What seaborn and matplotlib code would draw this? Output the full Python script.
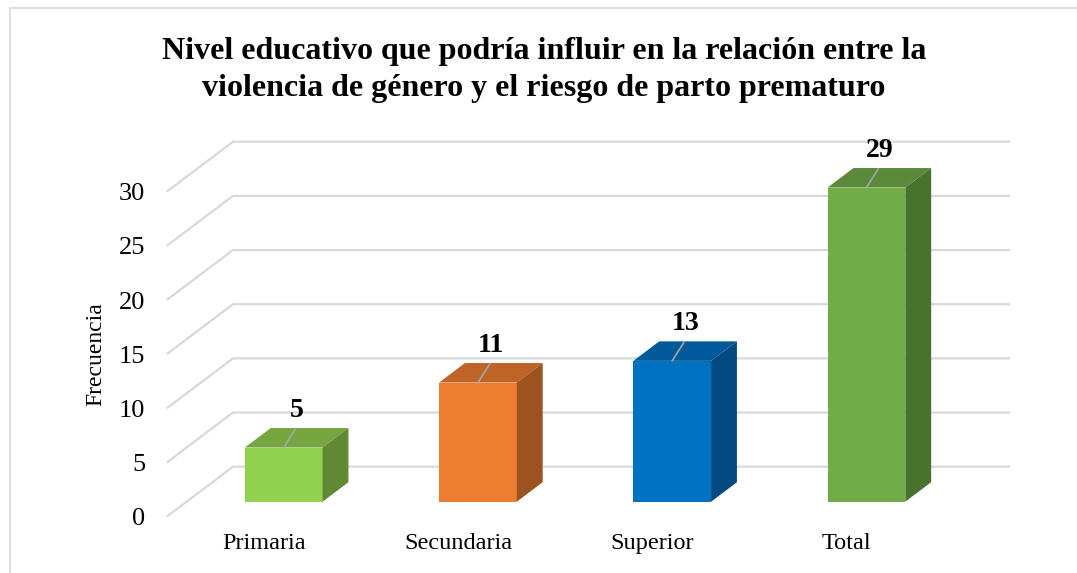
import numpy as np
import pandas as pd
import seaborn as sns
import matplotlib
matplotlib.use("Agg")
import matplotlib.pyplot as plt
from matplotlib.patches import Polygon, Rectangle
from matplotlib import colors as mcolors

# ---------------- data ----------------
categories = ["Primaria", "Secundaria", "Superior", "Total"]
frecuencias = [5, 11, 13, 29]
bar_colors = ["#92D050", "#ED7D31", "#0070C0", "#70AD47"]
yticks = [0, 5, 10, 15, 20, 25, 30]
title = ("Nivel educativo que podría influir en la relación entre la\n"
         "violencia de género y el riesgo de parto prematuro")
ylabel = "Frecuencia"

# ---------------- style ----------------
sns.set_theme(style="white")
plt.rcParams["font.family"] = ["Liberation Serif", "DejaVu Serif"]

W, H = 1077, 573
fig = plt.figure(figsize=(W / 100, H / 100), dpi=100)
fig.patch.set_facecolor("white")

# axes = front plane of the 3D box (pixel geometry)
ax_left, ax_bottom_px, ax_w, ax_h = 166.7, 516.7, 777.0, 325.0
ax = fig.add_axes([ax_left / W, (H - ax_bottom_px) / H, ax_w / W, ax_h / H])
ax.set_facecolor("white")

df = pd.DataFrame({"Nivel": categories, "Frecuencia": frecuencias})
sns.barplot(data=df, x="Nivel", y="Frecuencia", hue="Nivel", palette=bar_colors,
            width=0.4, saturation=1, legend=False, ax=ax, zorder=3)

ax.set_xlim(-0.5, 3.5)
ax.set_ylim(0, 30)

px_x = ax_w / 4.0      # pixels per category
px_y = ax_h / 30.0     # pixels per unit


def to_data(dx_px, dy_px):
    return dx_px / px_x, dy_px / px_y


# depth vectors (pixels, y up)
Dx, Dy = to_data(66.3, 50.0)           # full depth of the box
fx, fy = to_data(0.3 * 66.3, 0.3 * 50.0)   # bar front plane
bx, by = to_data(0.39 * 66.3, 0.39 * 50.0)  # bar depth

# gridlines: side wall + back wall
for v in yticks:
    ax.plot([-0.5, -0.5 + Dx, 3.5 + Dx], [v, v + Dy, v + Dy],
            color="#d9d9d9", lw=1.6, clip_on=False, zorder=0,
            solid_capstyle="butt")


def shade(c, f):
    r, g, b = mcolors.to_rgb(c)
    return (r * f, g * f, b * f)


# 3D bars: shift front faces, add tops and sides
lx, ly = to_data(12, 19)
tx, ty = to_data(13, 37)
for patch, col, val in zip(ax.patches, bar_colors, frecuencias):
    x0 = patch.get_x() + fx
    w = patch.get_width()
    h = patch.get_height()
    y0 = patch.get_y() + fy
    patch.set_x(x0)
    patch.set_y(y0)
    patch.set_edgecolor("none")
    patch.set_clip_on(False)
    x1 = x0 + w
    top = Polygon([(x0, y0 + h), (x1, y0 + h), (x1 + bx, y0 + h + by), (x0 + bx, y0 + h + by)],
                  closed=True, facecolor=shade(col, 0.80), edgecolor="none", zorder=3,
                  clip_on=False)
    side = Polygon([(x1, y0), (x1, y0 + h), (x1 + bx, y0 + h + by), (x1 + bx, y0 + by)],
                   closed=True, facecolor=shade(col, 0.66), edgecolor="none", zorder=3,
                   clip_on=False)
    ax.add_patch(top)
    ax.add_patch(side)
    cx = x0 + w / 2
    ax.plot([cx, cx + lx], [y0 + h, y0 + h + ly], color="#a6a6a6", lw=1.2,
            zorder=4, clip_on=False)
    ax.text(cx + tx, y0 + h + ty, f"{val}", ha="center", va="center",
            fontsize=20, fontweight="bold", color="black", zorder=5, clip_on=False)

# axes cosmetics
for s in ax.spines.values():
    s.set_visible(False)
ax.grid(False)
ax.set_yticks(yticks)
ax.set_yticklabels([str(t) for t in yticks])
ax.tick_params(axis="y", length=0, pad=15.5, labelsize=19, labelcolor="black")
ax.tick_params(axis="x", length=0, pad=11.5, labelsize=17.5, labelcolor="black")
ax.set_xlabel("")
ax.set_ylabel(ylabel, fontsize=17, color="black", labelpad=9)

# title
fig.text(544 / W, 1 - 70 / H, title, ha="center", va="center", fontsize=23,
         fontweight="bold", color="black", linespacing=1.32)

# chart frame
fig.add_artist(Rectangle((10 / W, -0.1), 1.2, 1 - 8 / H + 0.1, transform=fig.transFigure,
                         fill=False, edgecolor="#d9d9d9", lw=1.2))

fig.savefig("out.png", dpi=100)
